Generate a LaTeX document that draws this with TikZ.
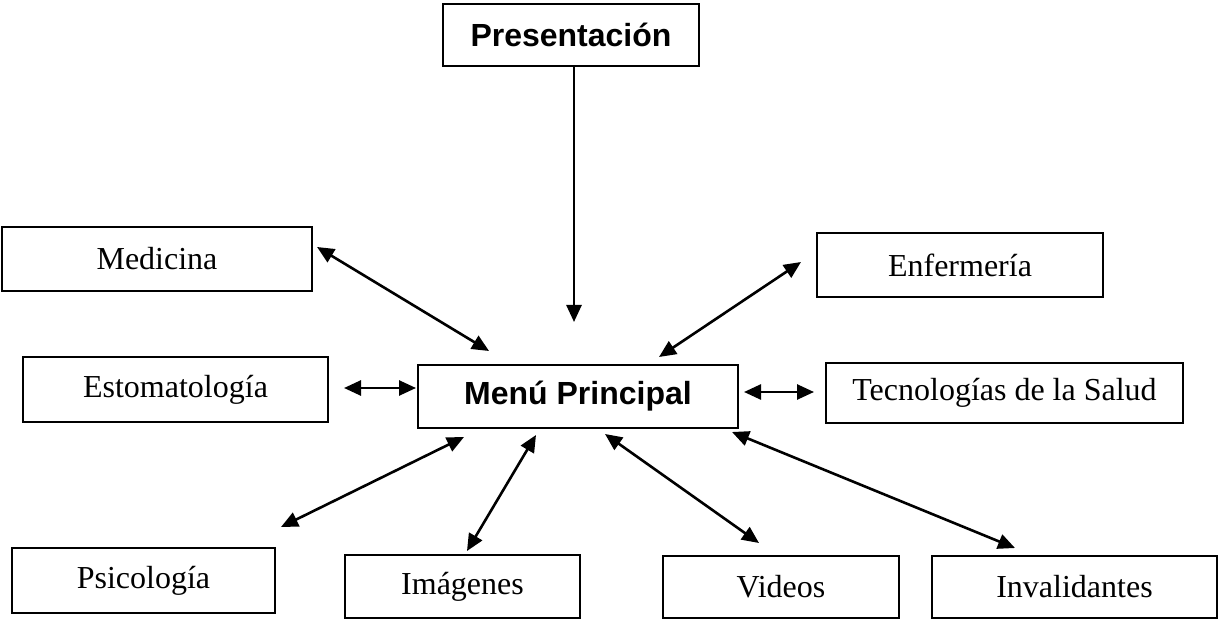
\documentclass[tikz,border=0pt]{standalone}
\usepackage{fontspec}
\setmainfont{Liberation Serif}
\setsansfont{Liberation Sans}
\usetikzlibrary{arrows.meta}

\begin{document}
\begin{tikzpicture}[x=0.5pt, y=-0.5pt,
  every node/.style = {shape=rectangle, draw, line width=1pt,
    inner sep=0pt, align=center, font=\fontsize{16}{19}\selectfont},
  titulo/.style = {font=\sffamily\bfseries\fontsize{16}{19}\selectfont},
  enlace/.style = {line width=1.3pt,
    {Triangle[length=8.5pt,width=7.5pt]}-{Triangle[length=8.5pt,width=7.5pt]}}]
  \useasboundingbox (0,0) rectangle (1218,619);
  % cajas
  \node[titulo, minimum width=128pt, minimum height=31pt] (pres) at (571,35) {Presentación};
  \node[titulo, minimum width=160pt, minimum height=31.5pt] (menu) at (578,396.5) {Menú Principal};
  \node[minimum width=155pt, minimum height=32pt] (med) at (157,259) {Medicina};
  \node[minimum width=152.5pt, minimum height=32.5pt] (est) at (175.5,389.5) {Estomatología};
  \node[minimum width=143pt, minimum height=32pt] (enf) at (960,265) {Enfermería};
  \node[minimum width=178.5pt, minimum height=30pt] (tec) at (1004.5,393) {Tecnologías de la Salud};
  \node[minimum width=131.5pt, minimum height=32.5pt] (psi) at (143.5,580.5) {Psicología};
  \node[minimum width=117.5pt, minimum height=31.5pt] (ima) at (462.5,586.5) {Imágenes};
  \node[minimum width=118pt, minimum height=31pt] (vid) at (781,587) {Videos};
  \node[minimum width=142.5pt, minimum height=31pt] (inv) at (1074.5,587) {Invalidantes};
  % extremos de las flechas
  \coordinate (presFin) at (574,322);
  \coordinate (medA) at (317,247);   \coordinate (medB) at (489,351);
  \coordinate (enfA) at (801,262);   \coordinate (enfB) at (659,357);
  \coordinate (estA) at (344,388);   \coordinate (estB) at (416,388);
  \coordinate (tecA) at (814,392);   \coordinate (tecB) at (744,392);
  \coordinate (psiA) at (281,527);   \coordinate (psiB) at (464,437);
  \coordinate (imaA) at (467,551);   \coordinate (imaB) at (536,435);
  \coordinate (vidA) at (759,543);   \coordinate (vidB) at (605,434);
  \coordinate (invA) at (1015,548);  \coordinate (invB) at (732,432);
  % flechas
  \draw[line width=1.3pt, -{Triangle[length=8.5pt,width=7.5pt]}] (pres.south -| presFin) -- (presFin);
  \foreach \n in {med,enf,est,tec,psi,ima,vid,inv}
    \draw[enlace] (\n A) -- (\n B);
\end{tikzpicture}
\end{document}
